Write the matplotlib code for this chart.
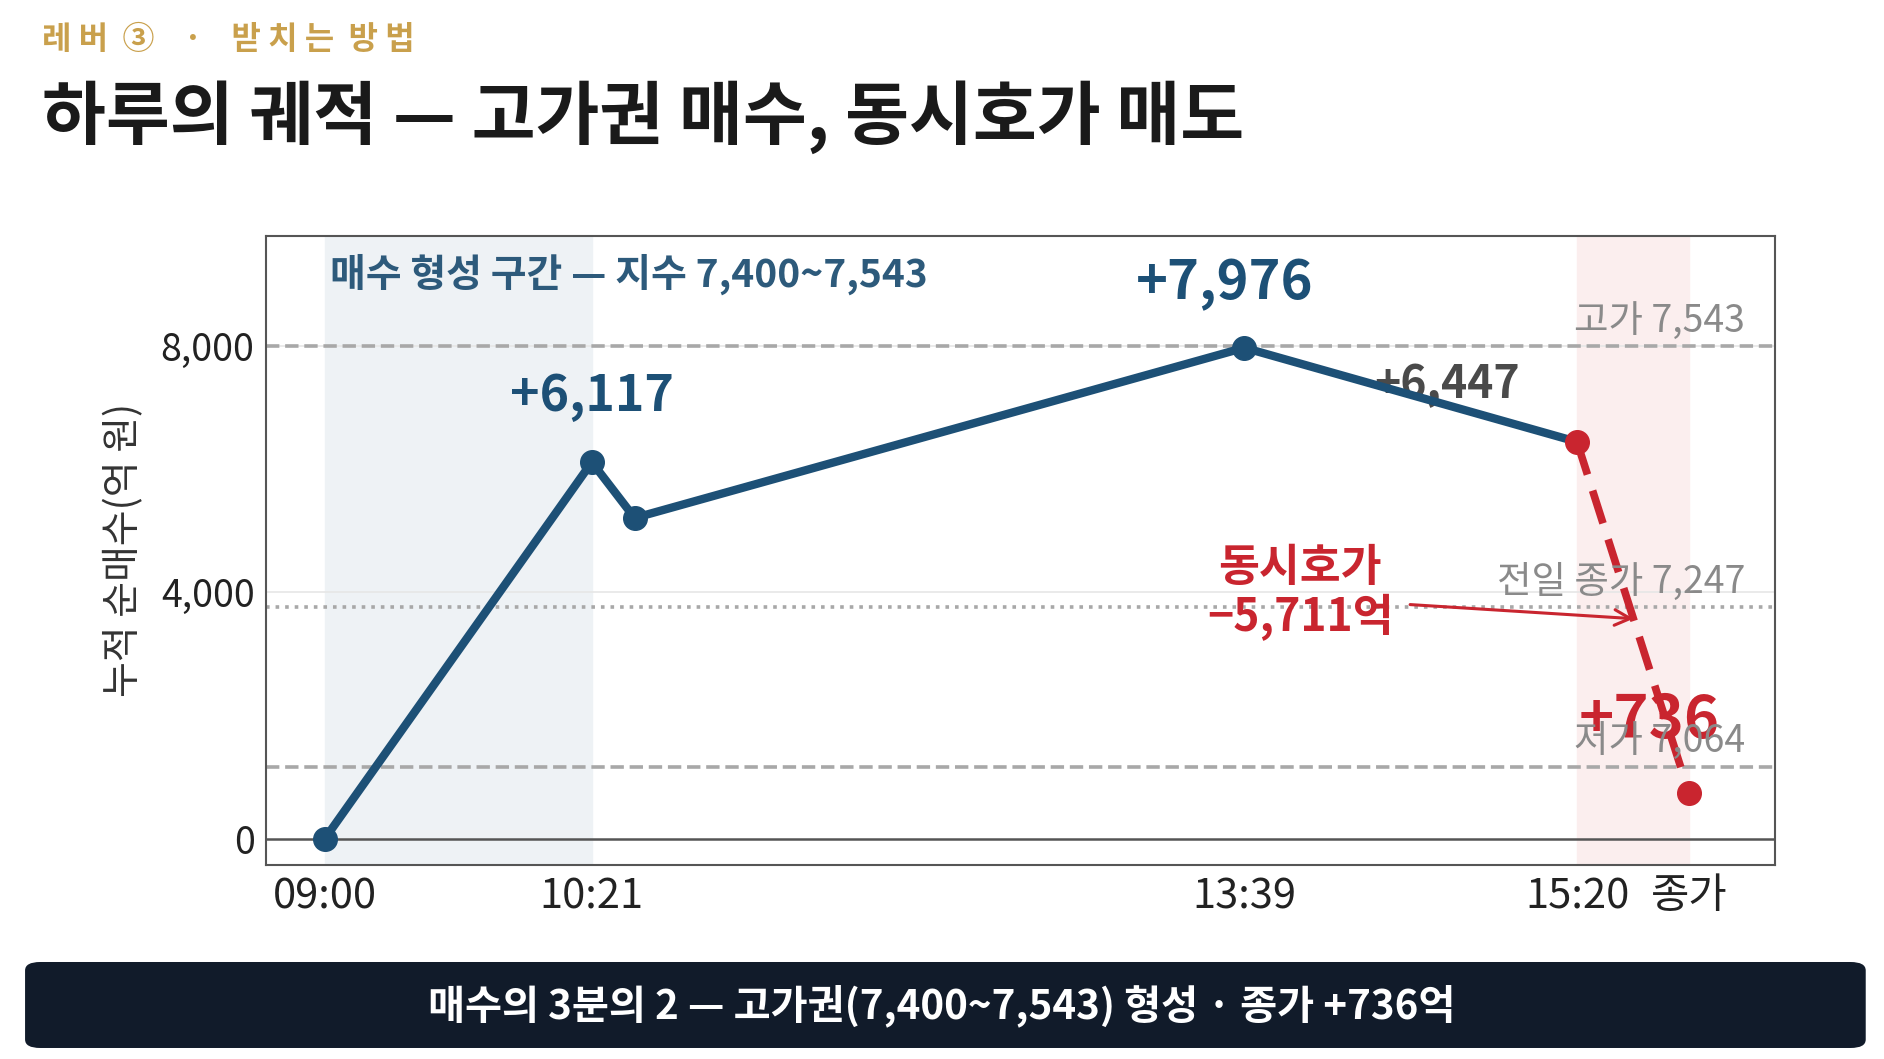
import matplotlib
matplotlib.use("Agg")
import matplotlib.pyplot as plt
from matplotlib.patches import FancyBboxPatch

plt.rcParams['font.family'] = ['Noto Sans CJK KR', 'DejaVu Sans']

# minutes after 09:00
times = [0, 81, 94, 279, 380, 414]
net_buy = [0, 6117, 5210, 7976, 6447, 736]
tick_pos = [0, 81, 279, 380, 414]
tick_labels = ['09:00', '10:21', '13:39', '15:20', '종가']

# index levels drawn as reference lines (on the net-buy scale)
ref_y = [8000, 3770, 1170]
ref_labels = ['고가 7,543', '전일 종가 7,247', '저가 7,064']
ref_styles = ['--', ':', '--']

blue = '#1d5076'
red = '#c9252f'
gray = '#a8a8a8'

fig = plt.figure(figsize=(18.84, 10.59), dpi=100)
ax = fig.add_axes([0.141, 0.1832, 0.801, 0.5944])

# shaded zones
ax.axvspan(0, 81, color='#eef2f5', zorder=0)
ax.axvspan(380, 414, color='#fbeeee', zorder=0)

# grid + zero line
for y in [4000, 8000]:
    ax.axhline(y, color='#e6e6e6', lw=1.2, zorder=1)
ax.axhline(0, color='#555555', lw=1.8, zorder=1)

# reference lines and labels
for y, lab, ls in zip(ref_y, ref_labels, ref_styles):
    ax.axhline(y, color=gray, lw=2.6, ls=ls, zorder=1)
    ax.text(431, y + 400, lab, ha='right', va='center', fontsize=27,
            color='#8a8a8a', zorder=6)

# main line
ax.plot(times[:5], net_buy[:5], color=blue, lw=6, zorder=3)
ax.plot(times[:4], net_buy[:4], 'o', color=blue, ms=17, zorder=4)
ax.plot(times[4:], net_buy[4:], color=red, lw=5.5, ls=(0, (4.5, 2.2)), zorder=3)
ax.plot(times[4:], net_buy[4:], 'o', color=red, ms=17, zorder=4)

# labels
ax.text(1.5, 9170, '매수 형성 구간 — 지수 7,400~7,543', ha='left', va='center',
        fontsize=28, fontweight='bold', color='#2d5a7b', zorder=5)
ax.text(81, 7180, '+6,117', ha='center', va='center', fontsize=36,
        fontweight='bold', color=blue, zorder=5)
ax.text(273, 9015, '+7,976', ha='center', va='center', fontsize=39,
        fontweight='bold', color=blue, zorder=5)
ax.text(340.5, 7375, '+6,447', ha='center', va='center', fontsize=32,
        fontweight='bold', color='#4a4a4a', zorder=2)
ax.text(296, 3990, '동시호가\n−5,711억', ha='center', va='center',
        fontsize=32, fontweight='bold', color=red, linespacing=1.1, zorder=5)
ax.annotate('', xy=(398, 3570), xytext=(328.5, 3805),
            arrowprops=dict(arrowstyle='->', color=red, lw=2.2,
                            mutation_scale=28), zorder=5)
ax.text(402, 1910, '+736', ha='center', va='center', fontsize=43,
        fontweight='bold', color=red, zorder=2)

ax.set_xlim(-18, 440)
ax.set_ylim(-430, 9800)
ax.set_xticks(tick_pos)
ax.set_xticklabels(tick_labels, fontsize=30)
ax.set_yticks([0, 4000, 8000])
ax.set_yticklabels(['0', '4,000', '8,000'], fontsize=27)
ax.tick_params(length=0, labelcolor='#222222', pad=8)
ax.set_ylabel('누적 순매수(억 원)', fontsize=28, color='#333333', labelpad=12)
for s in ax.spines.values():
    s.set_color('#555555')
    s.set_linewidth(1.5)

# header
fig.text(0.0223, 0.962, '레 버  ③    ·    받 치 는  방 법', ha='left', va='center',
         fontsize=23, fontweight='bold', color='#c9a04c')
fig.text(0.0223, 0.889, '하루의 궤적 — 고가권 매수, 동시호가 매도', ha='left',
         va='center', fontsize=50, fontweight='bold', color='#1a1a1a')

# bottom banner
banner = FancyBboxPatch((0.0133, 0.0104), 0.977, 0.0812,
                        boxstyle='round,pad=0,rounding_size=0.008',
                        transform=fig.transFigure, facecolor='#111b2a',
                        edgecolor='none')
fig.patches.append(banner)
fig.text(0.5, 0.050, '매수의 3분의 2 — 고가권(7,400~7,543) 형성 · 종가 +736억',
         ha='center', va='center', fontsize=29, fontweight='bold', color='white')

fig.savefig('out.png', dpi=100)
